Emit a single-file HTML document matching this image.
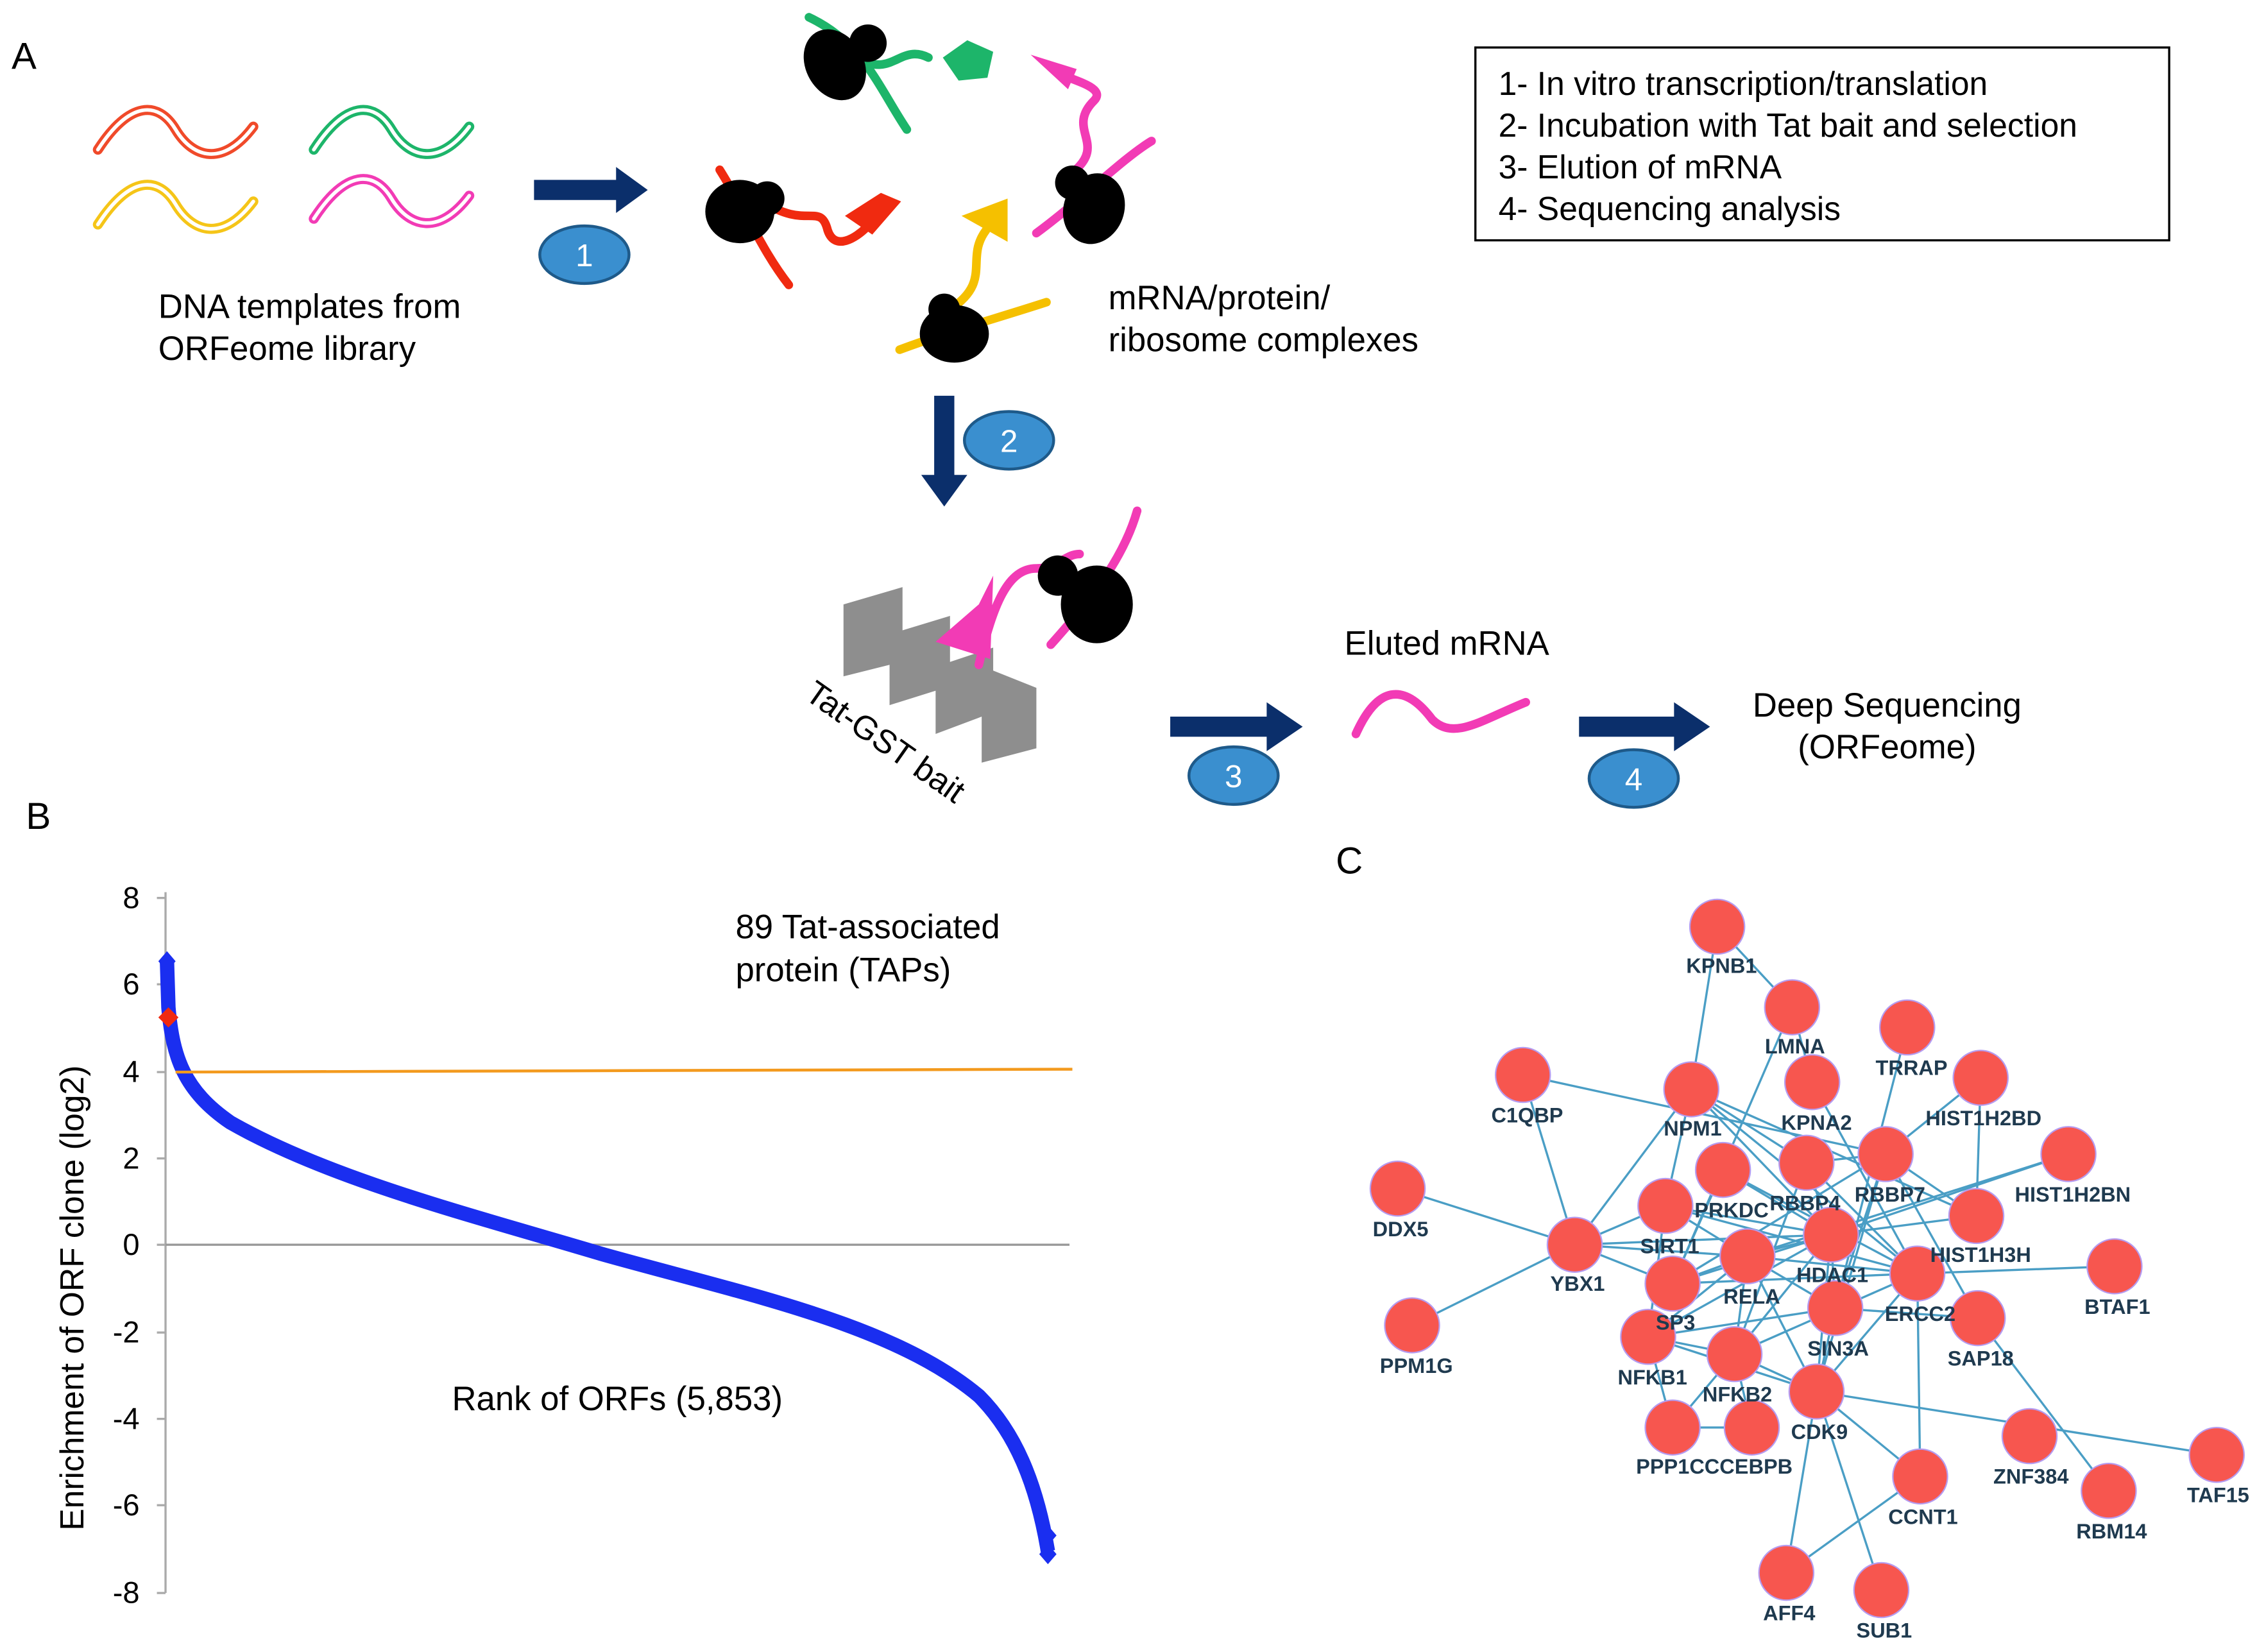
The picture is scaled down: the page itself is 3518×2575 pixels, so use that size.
<!DOCTYPE html>
<html><head><meta charset="utf-8"><style>
html,body{margin:0;padding:0;background:#fff;}
svg{display:block;}
text{font-family:"Liberation Sans",sans-serif;}
</style></head><body>
<svg width="3518" height="2575" viewBox="0 0 1568 1148" preserveAspectRatio="none" xmlns="http://www.w3.org/2000/svg">
<rect width="1568" height="1148" fill="#fff"/>
<text x="8" y="48" font-size="26">A</text>
<text x="18" y="576" font-size="26">B</text>
<text x="928" y="607" font-size="26">C</text>

<g fill="none" stroke-width="7" stroke-linecap="round">
 <path d="M68,104 C90,70 110,70 122,90 C134,110 155,116 176,88" stroke="#f04a2a"/>
 <path d="M68,104 C90,70 110,70 122,90 C134,110 155,116 176,88" stroke="#fff" stroke-width="2.5"/>
 <path d="M218,104 C240,70 260,70 272,90 C284,110 305,116 326,88" stroke="#1db56a"/>
 <path d="M218,104 C240,70 260,70 272,90 C284,110 305,116 326,88" stroke="#fff" stroke-width="2.5"/>
 <path d="M68,156 C90,122 110,122 122,142 C134,162 155,168 176,140" stroke="#f5c518"/>
 <path d="M68,156 C90,122 110,122 122,142 C134,162 155,168 176,140" stroke="#fff" stroke-width="2.5"/>
 <path d="M218,152 C240,118 260,118 272,138 C284,158 305,164 326,136" stroke="#f23bb5"/>
 <path d="M218,152 C240,118 260,118 272,138 C284,158 305,164 326,136" stroke="#fff" stroke-width="2.5"/>
</g>
<text x="110" y="221" font-size="23.5">DNA templates from</text>
<text x="110" y="250" font-size="23.5">ORFeome library</text>

<polygon points="371,125 428,125 428,116 450,132 428,148 428,139 371,139" fill="#0b2f6b"/>
<ellipse cx="406" cy="177" rx="31" ry="20" fill="#3a8fcf" stroke="#1e5a8a" stroke-width="2"/>
<text x="406" y="185" font-size="22" fill="#fff" text-anchor="middle">1</text>

<g stroke-width="6" fill="none" stroke-linecap="round">
 <path d="M562,12 C600,30 610,60 630,90" stroke="#1db56a"/>
 <path d="M595,40 C620,55 625,30 645,40" stroke="#1db56a"/>
 <path d="M500,118 C520,150 530,175 548,198" stroke="#f02a10"/>
 <path d="M530,140 C560,160 570,140 575,160 C580,175 595,165 602,158" stroke="#f02a10"/>
 <path d="M625,243 C660,230 690,222 727,210" stroke="#f5c000"/>
 <path d="M660,215 C690,195 670,180 685,160" stroke="#f5c000"/>
 <path d="M720,162 C750,140 780,110 800,98" stroke="#f23bb5"/>
 <path d="M745,120 C770,100 740,90 760,70 C770,60 740,55 735,50" stroke="#f23bb5"/>
</g>
<g fill="#000">
 <ellipse cx="580" cy="45" rx="20" ry="26" transform="rotate(-30 580 45)"/><circle cx="603" cy="30" r="13"/>
 <ellipse cx="514" cy="147" rx="24" ry="22"/><circle cx="533" cy="138" r="12"/>
 <ellipse cx="663" cy="232" rx="24" ry="20"/><circle cx="656" cy="215" r="11"/>
 <ellipse cx="760" cy="145" rx="21" ry="25" transform="rotate(20 760 145)"/><circle cx="745" cy="127" r="12"/>
</g>
<polygon points="655,40 672,28 690,36 686,54 666,56" fill="#1db56a"/>
<polygon points="587,150 612,134 626,140 606,163" fill="#f02a10"/>
<polygon points="668,150 700,138 700,168" fill="#f5c000"/>
<polygon points="716,38 742,62 748,48" fill="#f23bb5"/>
<text x="770" y="215" font-size="23.5">mRNA/protein/</text>
<text x="770" y="244" font-size="23.5">ribosome complexes</text>

<rect x="1025" y="33" width="482" height="134" fill="#fff" stroke="#000" stroke-width="1.5"/>
<text x="1041" y="66" font-size="23">1- In vitro transcription/translation</text>
<text x="1041" y="95" font-size="23">2- Incubation with Tat bait and selection</text>
<text x="1041" y="124" font-size="23">3- Elution of mRNA</text>
<text x="1041" y="153" font-size="23">4- Sequencing analysis</text>

<polygon points="649,275 663,275 663,330 672,330 656,352 640,330 649,330" fill="#0b2f6b"/>
<ellipse cx="701" cy="306" rx="31" ry="20" fill="#3a8fcf" stroke="#1e5a8a" stroke-width="2"/>
<text x="701" y="314" font-size="22" fill="#fff" text-anchor="middle">2</text>

<polygon points="586,420 627,408 627,438 660,428 660,460 690,450 690,466 720,478 720,520 682,530 682,498 650,510 650,480 618,490 618,462 586,470" fill="#8e8e8e"/>
<text x="558" y="485" font-size="23" transform="rotate(35 558 485)">Tat-GST bait</text>
<g stroke="#f23bb5" stroke-width="6" fill="none" stroke-linecap="round">
 <path d="M680,462 C690,420 700,395 720,395 C735,395 740,385 750,385"/>
 <path d="M730,448 C755,420 780,390 790,355"/>
</g>
<polygon points="650,446 680,420 690,400 688,458" fill="#f23bb5"/>
<g fill="#000"><ellipse cx="762" cy="420" rx="25" ry="27"/><circle cx="735" cy="400" r="14"/></g>

<polygon points="813,498 880,498 880,488 905,505 880,522 880,512 813,512" fill="#0b2f6b"/>
<ellipse cx="857" cy="539" rx="31" ry="20" fill="#3a8fcf" stroke="#1e5a8a" stroke-width="2"/>
<text x="857" y="547" font-size="22" fill="#fff" text-anchor="middle">3</text>
<text x="934" y="455" font-size="23.5">Eluted mRNA</text>
<path d="M942,510 C960,470 980,480 995,500 C1010,515 1030,500 1060,488" stroke="#f23bb5" stroke-width="6" fill="none" stroke-linecap="round"/>

<polygon points="1097,498 1163,498 1163,488 1188,505 1163,522 1163,512 1097,512" fill="#0b2f6b"/>
<ellipse cx="1135" cy="541" rx="31" ry="20" fill="#3a8fcf" stroke="#1e5a8a" stroke-width="2"/>
<text x="1135" y="549" font-size="22" fill="#fff" text-anchor="middle">4</text>
<text x="1311" y="498" font-size="23.5" text-anchor="middle">Deep Sequencing</text>
<text x="1311" y="527" font-size="23.5" text-anchor="middle">(ORFeome)</text>

<line x1="115" y1="620" x2="115" y2="1107" stroke="#aaa" stroke-width="1.5"/>
<g stroke="#aaa" stroke-width="1.5">
 <line x1="109" y1="624" x2="115" y2="624"/><line x1="109" y1="684" x2="115" y2="684"/>
 <line x1="109" y1="745" x2="115" y2="745"/><line x1="109" y1="805" x2="115" y2="805"/>
 <line x1="109" y1="865" x2="115" y2="865"/><line x1="109" y1="926" x2="115" y2="926"/>
 <line x1="109" y1="986" x2="115" y2="986"/><line x1="109" y1="1046" x2="115" y2="1046"/>
 <line x1="109" y1="1107" x2="115" y2="1107"/>
</g>
<line x1="115" y1="865" x2="743" y2="865" stroke="#999" stroke-width="1.5"/>
<g font-size="21" text-anchor="end">
 <text x="97" y="631">8</text><text x="97" y="691">6</text><text x="97" y="752">4</text>
 <text x="97" y="812">2</text><text x="97" y="872">0</text><text x="97" y="933">-2</text>
 <text x="97" y="993">-4</text><text x="97" y="1053">-6</text><text x="97" y="1114">-8</text>
</g>
<text x="58" y="902" font-size="23" text-anchor="middle" transform="rotate(-90 58 902)">Enrichment of ORF clone (log2)</text>
<path d="M116,668 L117,700 C120,735 128,758 160,780 C230,820 330,845 420,872 C520,900 620,920 680,970 C705,995 720,1030 728,1078" stroke="#1a2ef0" stroke-width="10" fill="none"/>
<g fill="#1a2ef0">
 <polygon points="116,661 122,668 116,675 110,668"/>
 <polygon points="728,1073 734,1080 728,1087 722,1080"/>
 <polygon points="728,1060 734,1067 728,1074 722,1067"/>
</g>
<polygon points="117,700 124,707 117,714 110,707" fill="#f02a10"/>
<line x1="122" y1="745" x2="745" y2="743" stroke="#f39a1e" stroke-width="2"/>
<text x="511" y="652" font-size="23.5">89 Tat-associated</text>
<text x="511" y="682" font-size="23.5">protein (TAPs)</text>
<text x="314" y="980" font-size="23.5">Rank of ORFs (5,853)</text>

<g stroke="#4a9ec5" stroke-width="1.5">
<line x1="1193" y1="644" x2="1175" y2="757"/><line x1="1193" y1="644" x2="1245" y2="700"/>
<line x1="1245" y1="700" x2="1259" y2="752"/><line x1="1245" y1="700" x2="1162" y2="892"/>
<line x1="1058" y1="747" x2="1310" y2="802"/><line x1="1058" y1="747" x2="1094" y2="865"/>
<line x1="1175" y1="757" x2="1094" y2="865"/><line x1="1175" y1="757" x2="1157" y2="838"/>
<line x1="1175" y1="757" x2="1272" y2="858"/><line x1="1175" y1="757" x2="1332" y2="885"/>
<line x1="1175" y1="757" x2="1373" y2="845"/><line x1="1175" y1="757" x2="1255" y2="808"/>
<line x1="1325" y1="714" x2="1275" y2="909"/><line x1="1259" y1="752" x2="1332" y2="885"/>
<line x1="1376" y1="749" x2="1310" y2="802"/><line x1="1376" y1="749" x2="1373" y2="845"/>
<line x1="1437" y1="802" x2="1272" y2="858"/><line x1="1437" y1="802" x2="1214" y2="873"/>
<line x1="971" y1="826" x2="1094" y2="865"/><line x1="981" y1="921" x2="1094" y2="865"/>
<line x1="1094" y1="865" x2="1157" y2="838"/><line x1="1094" y1="865" x2="1214" y2="873"/>
<line x1="1094" y1="865" x2="1162" y2="892"/><line x1="1094" y1="865" x2="1272" y2="858"/>
<line x1="1197" y1="813" x2="1332" y2="885"/><line x1="1197" y1="813" x2="1272" y2="858"/>
<line x1="1197" y1="813" x2="1162" y2="892"/><line x1="1255" y1="808" x2="1272" y2="858"/>
<line x1="1255" y1="808" x2="1205" y2="941"/><line x1="1255" y1="808" x2="1332" y2="885"/>
<line x1="1255" y1="808" x2="1310" y2="802"/><line x1="1310" y1="802" x2="1275" y2="909"/>
<line x1="1310" y1="802" x2="1374" y2="916"/><line x1="1310" y1="802" x2="1373" y2="845"/>
<line x1="1310" y1="802" x2="1162" y2="892"/><line x1="1310" y1="802" x2="1262" y2="967"/>
<line x1="1157" y1="838" x2="1214" y2="873"/><line x1="1157" y1="838" x2="1272" y2="858"/>
<line x1="1157" y1="838" x2="1145" y2="929"/><line x1="1157" y1="838" x2="1332" y2="885"/>
<line x1="1272" y1="858" x2="1275" y2="909"/><line x1="1272" y1="858" x2="1162" y2="892"/>
<line x1="1272" y1="858" x2="1214" y2="873"/><line x1="1272" y1="858" x2="1205" y2="941"/>
<line x1="1272" y1="858" x2="1262" y2="967"/><line x1="1272" y1="858" x2="1373" y2="845"/>
<line x1="1272" y1="858" x2="1145" y2="929"/><line x1="1214" y1="873" x2="1145" y2="929"/>
<line x1="1214" y1="873" x2="1205" y2="941"/><line x1="1214" y1="873" x2="1262" y2="967"/>
<line x1="1214" y1="873" x2="1275" y2="909"/><line x1="1214" y1="873" x2="1162" y2="892"/>
<line x1="1214" y1="873" x2="1332" y2="885"/><line x1="1332" y1="885" x2="1469" y2="880"/>
<line x1="1332" y1="885" x2="1334" y2="1026"/><line x1="1332" y1="885" x2="1262" y2="967"/>
<line x1="1332" y1="885" x2="1162" y2="892"/><line x1="1332" y1="885" x2="1205" y2="941"/>
<line x1="1275" y1="909" x2="1374" y2="916"/><line x1="1275" y1="909" x2="1145" y2="929"/>
<line x1="1275" y1="909" x2="1262" y2="967"/><line x1="1374" y1="916" x2="1465" y2="1036"/>
<line x1="1145" y1="929" x2="1205" y2="941"/><line x1="1145" y1="929" x2="1162" y2="992"/>
<line x1="1145" y1="929" x2="1262" y2="967"/><line x1="1205" y1="941" x2="1262" y2="967"/>
<line x1="1205" y1="941" x2="1217" y2="992"/><line x1="1205" y1="941" x2="1162" y2="992"/>
<line x1="1162" y1="992" x2="1217" y2="992"/><line x1="1262" y1="967" x2="1540" y2="1011"/>
<line x1="1262" y1="967" x2="1334" y2="1026"/><line x1="1262" y1="967" x2="1241" y2="1093"/>
<line x1="1262" y1="967" x2="1307" y2="1105"/><line x1="1334" y1="1026" x2="1241" y2="1093"/>
</g>
<g fill="#f7564f" stroke="#b59cf0" stroke-width="1">
<circle cx="1193" cy="644" r="19"/><circle cx="1245" cy="700" r="19"/><circle cx="1325" cy="714" r="19"/>
<circle cx="1058" cy="747" r="19"/><circle cx="1175" cy="757" r="19"/><circle cx="1259" cy="752" r="19"/>
<circle cx="1376" cy="749" r="19"/><circle cx="1197" cy="813" r="19"/><circle cx="1255" cy="808" r="19"/>
<circle cx="1310" cy="802" r="19"/><circle cx="1437" cy="802" r="19"/><circle cx="971" cy="826" r="19"/>
<circle cx="1157" cy="838" r="19"/><circle cx="1272" cy="858" r="19"/><circle cx="1373" cy="845" r="19"/>
<circle cx="1094" cy="865" r="19"/><circle cx="1214" cy="873" r="19"/><circle cx="1332" cy="885" r="19"/>
<circle cx="1469" cy="880" r="19"/><circle cx="1162" cy="892" r="19"/><circle cx="1275" cy="909" r="19"/>
<circle cx="1374" cy="916" r="19"/><circle cx="981" cy="921" r="19"/><circle cx="1145" cy="929" r="19"/>
<circle cx="1205" cy="941" r="19"/><circle cx="1262" cy="967" r="19"/><circle cx="1410" cy="998" r="19"/>
<circle cx="1540" cy="1011" r="19"/><circle cx="1162" cy="992" r="19"/><circle cx="1217" cy="992" r="19"/>
<circle cx="1334" cy="1026" r="19"/><circle cx="1465" cy="1036" r="19"/><circle cx="1241" cy="1093" r="19"/>
<circle cx="1307" cy="1105" r="19"/>
</g>
<g font-size="14.5" font-weight="bold" fill="#1f3a4f" text-anchor="middle">
<text x="1196" y="676">KPNB1</text><text x="1247" y="732">LMNA</text><text x="1328" y="747">TRRAP</text>
<text x="1061" y="780">C1QBP</text><text x="1176" y="789">NPM1</text><text x="1262" y="785">KPNA2</text>
<text x="1378" y="782">HIST1H2BD</text><text x="1203" y="846">PRKDC</text><text x="1254" y="841">RBBP4</text>
<text x="1313" y="835">RBBP7</text><text x="1440" y="835">HIST1H2BN</text><text x="973" y="859">DDX5</text>
<text x="1160" y="871">SIRT1</text><text x="1273" y="891">HDAC1</text><text x="1376" y="877">HIST1H3H</text>
<text x="1096" y="897">YBX1</text><text x="1217" y="906">RELA</text><text x="1334" y="918">ERCC2</text>
<text x="1471" y="913">BTAF1</text><text x="1164" y="924">SP3</text><text x="1277" y="942">SIN3A</text>
<text x="1376" y="949">SAP18</text><text x="984" y="954">PPM1G</text><text x="1148" y="962">NFKB1</text>
<text x="1207" y="974">NFKB2</text><text x="1264" y="1000">CDK9</text><text x="1411" y="1031">ZNF384</text>
<text x="1541" y="1044">TAF15</text><text x="1191" y="1024">PPP1CCCEBPB</text>
<text x="1336" y="1059">CCNT1</text><text x="1467" y="1069">RBM14</text><text x="1243" y="1126">AFF4</text>
<text x="1309" y="1138">SUB1</text>
</g>
</svg>
</body></html>
